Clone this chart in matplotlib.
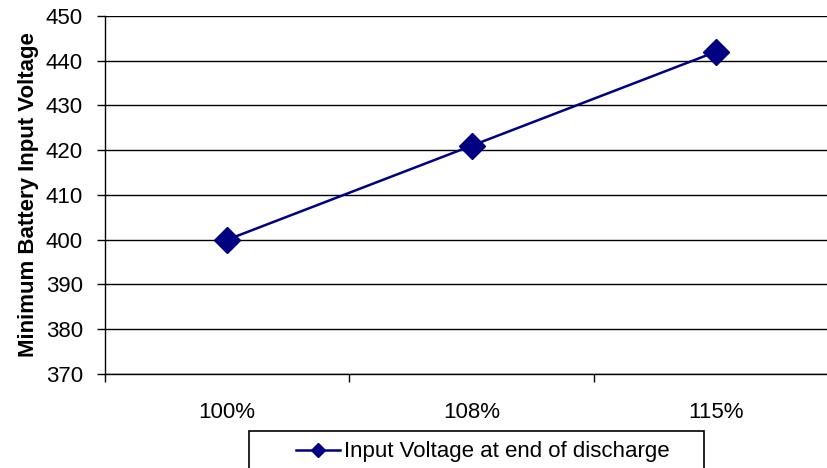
import matplotlib.pyplot as plt
from matplotlib.patches import Rectangle

# Data
categories = ["100%", "108%", "115%"]
voltages = [400, 421, 442]
y_ticks = [370, 380, 390, 400, 410, 420, 430, 440, 450]

plt.rcParams['font.family'] = ['Liberation Sans', 'DejaVu Sans']

W, H = 827, 468
fig = plt.figure(figsize=(W / 100, H / 100), dpi=100)

# plot area in pixels: left 105, right ~838 (clipped), top 16, bottom 374
left, right, top, bottom = 105, 838, 16, 374
ax = fig.add_axes([left / W, 1 - bottom / H, (right - left) / W, (bottom - top) / H])

x = list(range(len(categories)))
line, = ax.plot(x, voltages, color='#000080', lw=1.8, marker='D', markersize=13,
                markeredgecolor='#000080', markerfacecolor='#000080', clip_on=False, zorder=3)

ax.set_xlim(-0.5, 2.5)
ax.set_ylim(370, 450)
ax.set_yticks(y_ticks)
ax.yaxis.grid(True, color='black', lw=1.0)
ax.set_axisbelow(True)

# category boundaries carry the tick marks, labels sit at the centers
ax.set_xticks([-0.5, 0.5, 1.5], minor=False)
ax.set_xticklabels([])
ax.set_xticks(x, minor=True)
ax.set_xticklabels(categories, minor=True)
ax.tick_params(axis='x', which='major', length=6, width=1, direction='out')
ax.tick_params(axis='x', which='minor', length=0, pad=20, labelsize=16)
ax.tick_params(axis='y', length=6, width=1, direction='out', labelsize=16, pad=10)

for s in ['top', 'right']:
    ax.spines[s].set_visible(False)
for s in ['left', 'bottom']:
    ax.spines[s].set_linewidth(1.0)
    ax.spines[s].set_color('black')

ax.set_ylabel("Minimum Battery Input Voltage", fontsize=16, fontweight='bold', labelpad=5)

# legend box (extends past the bottom edge)
fig.patches.append(Rectangle((249 / W, -0.05), (704 - 249) / W, 0.05 + 1 - 431 / H,
                             transform=fig.transFigure, fill=False, edgecolor='black', lw=1.2))
fig.legend([line], ["Input Voltage at end of discharge"], loc='center left',
           bbox_to_anchor=(287 / W, 1 - 452 / H), frameon=False, fontsize=16,
           handlelength=2.0, handletextpad=0.15, borderaxespad=0, markerscale=0.55)

fig.savefig("out.png", dpi=100)
